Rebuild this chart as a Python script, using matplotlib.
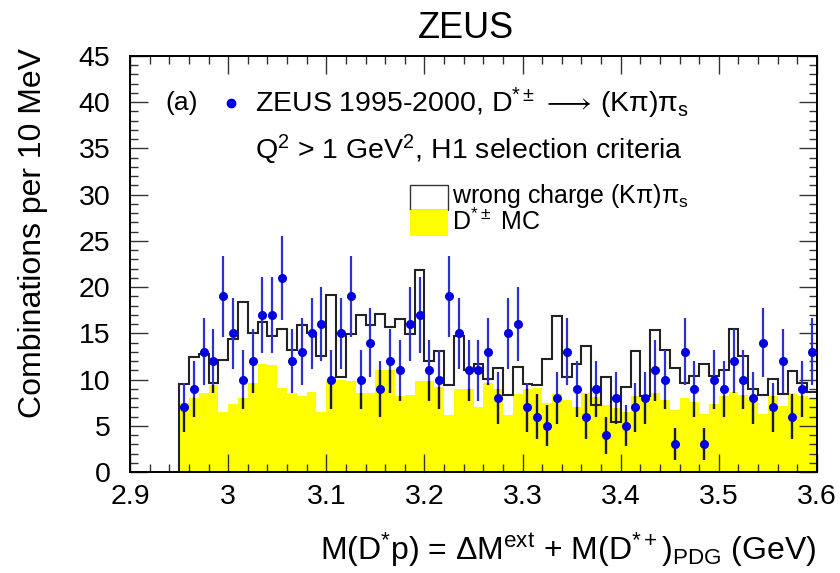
import numpy as np
import matplotlib
matplotlib.use("Agg")
import matplotlib.pyplot as plt
from matplotlib.patches import Rectangle

plt.rcParams['font.family'] = ['Liberation Sans', 'DejaVu Sans']
plt.rcParams['mathtext.fontset'] = 'custom'
plt.rcParams['mathtext.rm'] = 'Liberation Sans'
plt.rcParams['mathtext.it'] = 'Liberation Sans:italic'
plt.rcParams['mathtext.bf'] = 'Liberation Sans:bold'
plt.rcParams['mathtext.fallback'] = 'stixsans'

# 10 MeV bins from 2.95 to 3.60 GeV
bin_lo = 2.95
bin_w = 0.01
n_bins = 65

# ZEUS data, combinations per bin
data = [7, 9, 13, 12, 19, 15, 10, 12, 17, 17, 21, 12, 13, 15, 16, 10, 15, 19, 10, 14, 9, 12,
        11, 16, 17, 11, 10, 19, 15, 11, 11, 13, 8, 15, 16, 7, 6, 5, 8, 13, 9, 6, 9, 4,
        8, 5, 7, 8, 11, 10, 3, 13, 9, 3, 10, 9, 12, 10, 8, 14, 7, 12, 6, 9, 13]

# wrong charge (K pi) pi_s background
wrong_charge = [9.5, 12.4, 12.8, 9.6, 12.1, 14.4, 18.4, 15.0, 16.2, 14.7, 15.5, 13.2, 15.9, 15.0,
                12.6, 19.2, 10.3, 14.9, 17.0, 15.9, 17.1, 15.7, 16.6, 14.9, 21.9, 12.0, 13.1, 9.4,
                14.7, 11.0, 11.7, 10.1, 11.2, 8.3, 11.4, 9.5, 9.4, 12.2, 16.9, 10.3, 11.7, 13.6,
                7.3, 10.3, 5.4, 9.2, 13.1, 8.2, 15.4, 13.2, 11.3, 9.6, 10.4, 11.7, 10.4, 11.0,
                15.5, 12.6, 9.0, 8.3, 10.1, 8.4, 10.9, 9.6, 8.7]

# D*+- MC
mc = [7.5, 8.0, 8.5, 9.4, 6.5, 7.4, 8.0, 9.6, 11.7, 11.6, 9.1, 8.5, 8.2, 8.6, 6.5, 9.8, 10.0,
      9.8, 8.5, 8.5, 11.0, 11.0, 8.2, 8.3, 9.8, 9.8, 9.2, 6.2, 9.0, 9.0, 7.0, 9.6, 9.0, 6.2,
      8.4, 9.0, 9.1, 7.5, 8.4, 7.8, 7.0, 8.5, 8.1, 7.2, 6.9, 6.5, 8.2, 8.0, 8.5, 7.8, 6.7,
      8.0, 7.6, 6.3, 7.4, 8.2, 8.7, 8.3, 7.8, 6.3, 8.2, 7.1, 8.5, 8.2, 8.0]

edges = bin_lo + bin_w * np.arange(n_bins + 1)
centers = 0.5 * (edges[:-1] + edges[1:])
data = np.array(data, dtype=float)
err = np.sqrt(data)
mc = np.array(mc)
wrong_charge = np.array(wrong_charge)

fig = plt.figure(figsize=(8.4, 5.73), dpi=100)
ax = fig.add_axes([130 / 840, 1 - 472 / 573, 687 / 840, 416 / 573])

ax.stairs(mc, edges, fill=True, color='#ffff00', linewidth=0, zorder=1)
ax.stairs(wrong_charge, edges, baseline=0, color='#222222', linewidth=1.5, zorder=2)

ax.errorbar(centers, data, yerr=err, fmt='none', ecolor='#3030d0', elinewidth=1.6, zorder=3)
# bars look dark where they cross the yellow MC
lo = data - err
top = np.minimum(data + err, mc)
m = lo < top
ax.vlines(centers[m], lo[m], top[m], color='#1a1a33', linewidth=1.6, zorder=3)
ax.plot(centers, data, 'o', color='#0000e0', markersize=5.5, zorder=4)

ax.set_xlim(2.9, 3.6)
ax.set_ylim(0, 45)
ax.set_xticks(np.arange(2.9, 3.61, 0.1))
ax.set_xticklabels(['2.9', '3', '3.1', '3.2', '3.3', '3.4', '3.5', '3.6'])
ax.set_xticks(np.arange(2.9, 3.601, 0.02), minor=True)
ax.set_yticks(np.arange(0, 46, 5))
ax.set_yticks(np.arange(0, 46, 1), minor=True)
ax.tick_params(which='both', direction='in', top=True, right=True, labelsize=20.5, width=1, color='#333333')
ax.tick_params(which='major', length=13)
ax.tick_params(which='minor', length=6)
ax.tick_params(axis='y', pad=14)
ax.tick_params(axis='x', pad=9)
for s in ax.spines.values():
    s.set_linewidth(1.4)

fig.text(466 / 840, 1 - 29 / 573, 'ZEUS', ha='center', va='center', fontsize=26)
fig.text(33 / 840, 1 - 48 / 573, 'Combinations per 10 MeV', rotation=90, ha='center', va='top', fontsize=23)
fig.text(816 / 840, 1 - 550 / 573,
         r'M(D$^{*}$p) = ΔM$^{\mathrm{ext}}$ + M(D$^{*+}$)$_{\mathrm{PDG}}$ (GeV)',
         ha='right', va='center', fontsize=23)

tr = ax.transAxes
ax.text(0.051, 0.887, '(a)', transform=tr, ha='left', va='center', fontsize=19)
ax.plot([0.147], [0.887], 'o', color='#0000e0', markersize=6, transform=tr, clip_on=False)
ax.text(0.182, 0.887, r'ZEUS 1995-2000, D$^{*\pm}\,\longrightarrow\,$(Kπ)π$_{\mathrm{s}}$', transform=tr,
        ha='left', va='center', fontsize=20.5)
ax.text(0.182, 0.774, r'Q$^{2}$ > 1 GeV$^{2}$, H1 selection criteria', transform=tr,
        ha='left', va='center', fontsize=20.5)
ax.add_patch(Rectangle((0.4076, 0.630), 0.0554, 0.060, transform=tr, facecolor='white',
                       edgecolor='#333333', linewidth=1))
ax.add_patch(Rectangle((0.4076, 0.567), 0.0554, 0.063, transform=tr, facecolor='#ffff00',
                       edgecolor='none'))
ax.text(0.469, 0.663, r'wrong charge (Kπ)π$_{\mathrm{s}}$', transform=tr, ha='left', va='center', fontsize=18)
ax.text(0.469, 0.601, r'D$^{*\pm}$ MC', transform=tr, ha='left', va='center', fontsize=18)

fig.savefig('out.png', dpi=100)
